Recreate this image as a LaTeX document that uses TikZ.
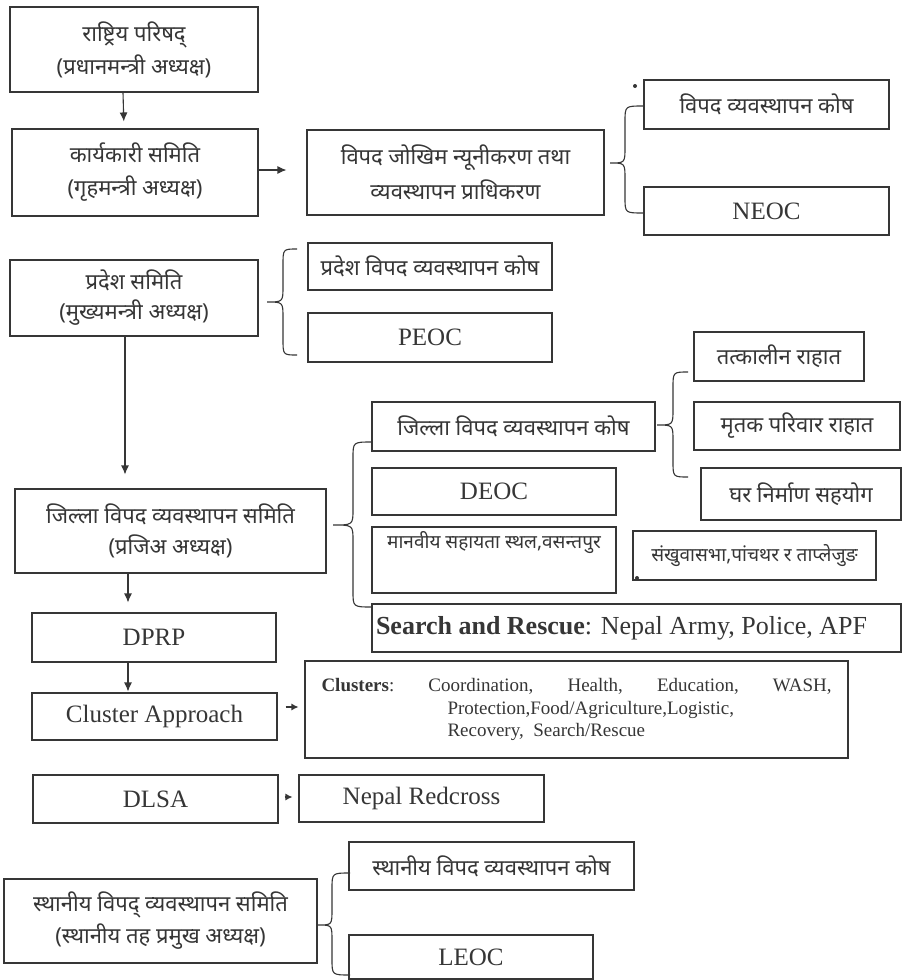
\documentclass[tikz,border=0pt]{standalone}
\usepackage{fontspec}
\setmainfont{Liberation Serif}
\newfontfamily\dev[Script=Devanagari]{Noto Sans}
\usetikzlibrary{arrows.meta}
\definecolor{ink}{HTML}{363636}
\tikzset{
  box/.style={draw=ink, line width=1.1pt, inner sep=0pt, text=ink, align=center},
  lat/.style={font=\fontsize{25}{30}\selectfont},
  dv/.style={font=\dev\fontsize{22}{33}\selectfont},
  dvs/.style={font=\dev\fontsize{19}{22}\selectfont},
  arr/.style={draw=ink, line width=1.1pt, -{Latex[length=9pt,width=8pt]}},
  brc/.style={draw=ink, line width=1.1pt},
}
\newcommand\curly[6]{%
  \draw[brc] (#1,#4) .. controls (#2,#4) .. (#2,#4+16) -- (#2,#5-16)
    .. controls (#2,#5) .. (#3,#5) .. controls (#2,#5) .. (#2,#5+16)
    -- (#2,#6-16) .. controls (#2,#6) .. (#1,#6);}
\begin{document}
\begin{tikzpicture}[x=1pt,y=-1pt]
\useasboundingbox (0,0) rectangle (903,980);
\fill[white] (0,0) rectangle (903,980);

% top level
\node[box,dv,minimum width=248pt,minimum height=85pt] (b1) at (134,49.5) {राष्ट्रिय परिषद्\\(प्रधानमन्त्री अध्यक्ष)};
\node[box,dv,minimum width=246pt,minimum height=87pt] (b2) at (135,172.5) {कार्यकारी समिति\\(गृहमन्त्री अध्यक्ष)};
\node[box,dv,font=\dev\fontsize{22}{35}\selectfont,minimum width=297pt,minimum height=85pt] (b3) at (455.5,172.5) {विपद जोखिम न्यूनीकरण तथा\\व्यवस्थापन प्राधिकरण};
\node[box,dv,minimum width=245pt,minimum height=49pt] (k1) at (766.5,104.5) {विपद व्यवस्थापन कोष};
\node[box,lat,minimum width=245pt,minimum height=48pt] (neoc) at (766.5,211) {NEOC};

% province
\node[box,dv,font=\dev\fontsize{22}{30}\selectfont,minimum width=248pt,minimum height=76pt] (b4) at (134,298) {प्रदेश समिति\\(मुख्यमन्त्री अध्यक्ष)};
\node[box,dv,minimum width=244pt,minimum height=47pt] (pk) at (430,266.5) {प्रदेश विपद व्यवस्थापन कोष};
\node[box,lat,minimum width=244pt,minimum height=49pt] (peoc) at (430,337.5) {PEOC};

% district
\node[box,dv,font=\dev\fontsize{22}{31}\selectfont,minimum width=311pt,minimum height=84pt] (b5) at (170.5,531) {जिल्ला विपद व्यवस्थापन समिति\\(प्रजिअ अध्यक्ष)};
\node[box,dv,minimum width=283pt,minimum height=49pt] (jk) at (513.5,426.5) {जिल्ला विपद व्यवस्थापन कोष};
\node[box,dv,minimum width=170pt,minimum height=49pt] (t1) at (779,356.5) {तत्कालीन राहात};
\node[box,dv,minimum width=206pt,minimum height=48pt] (t2) at (797,426) {मृतक परिवार राहात};
\node[box,dv,minimum width=200pt,minimum height=52pt] (t3) at (801,494) {घर निर्माण सहयोग};
\node[box,lat,minimum width=244pt,minimum height=47pt] (deoc) at (494,491.5) {DEOC};
\node[box,dvs,minimum width=244pt,text height=21pt,text depth=45pt] (mv) at (494,560) {मानवीय सहायता स्थल,वसन्तपुर};
\node[box,dvs,minimum width=243pt,minimum height=49pt] (sk) at (754.5,555.5) {संखुवासभा,पांचथर र ताप्लेजुङ};
\node[box,font=\fontsize{26}{30}\selectfont,minimum width=529pt,minimum height=48pt] (sr) at (636.5,628)
  {\makebox[521pt][l]{\textbf{Search and Rescue}: Nepal Army, Police, APF}};

\node[box,lat,minimum width=244pt,minimum height=49pt] (dprp) at (154,637.5) {DPRP};
\node[box,lat,minimum width=245pt,minimum height=47pt] (ca) at (154.5,716.5) {Cluster Approach};
\node[box,minimum width=543pt,minimum height=97pt,font=\fontsize{19}{22.5}\selectfont,align=left] (cl) at (576.5,709.5)
  {\parbox{510pt}{\textbf{Clusters}:\hfill Coordination,\hfill Health,\hfill Education,\hfill WASH,\\
   \hspace*{126pt}Protection,Food/Agriculture,Logistic,\\
   \hspace*{126pt}Recovery,\ \ Search/Rescue}};

\node[box,lat,minimum width=245pt,minimum height=48pt] (dlsa) at (155.5,799) {DLSA};
\node[box,lat,minimum width=245pt,minimum height=47pt] (rc) at (421.5,798.5) {Nepal Redcross};

% local
\node[box,dv,font=\dev\fontsize{22}{32}\selectfont,minimum width=313pt,minimum height=84pt] (b6) at (160.5,921) {स्थानीय विपद् व्यवस्थापन समिति\\(स्थानीय तह प्रमुख अध्यक्ष)};
\node[box,dv,minimum width=285pt,minimum height=48pt] (lk) at (491.5,866) {स्थानीय विपद व्यवस्थापन कोष};
\node[box,lat,minimum width=244pt,minimum height=44pt] (leoc) at (471,957) {LEOC};

% arrows
\coordinate (ax) at (128,0);
\coordinate (ay) at (0,707);
\coordinate (by) at (0,797);
\draw[arr,shorten >=7pt] ([xshift=-11pt]b1.south) -- ([xshift=-11pt]b2.north);
\draw[arr,shorten >=20pt] ([yshift=2.5pt]b2.east) -- ([yshift=2.5pt]b2.east -| b3.west);
\draw[arr,shorten >=14pt] ([xshift=-9pt]b4.south) -- ([xshift=-9pt]b4.south |- b5.north);
\draw[arr,shorten >=10pt] (b5.south -| ax) -- (dprp.north -| ax);
\draw[arr,shorten >=1pt] (dprp.south -| ax) -- (ca.north -| ax);
\draw[arr,shorten <=8pt,shorten >=6pt,-{Latex[length=7pt,width=7pt]}] (ca.east |- ay) -- (cl.west |- ay);
\draw[arr,shorten <=6pt,shorten >=6pt,-{Latex[length=7pt,width=7pt]}] (dlsa.east |- by) -- (rc.west |- by);

% braces
\curly{643}{625}{610}{106}{163}{213}
\curly{297}{283}{267}{249}{302}{355}
\curly{688}{673}{657}{372}{425}{477}
\curly{372}{353}{333}{442}{525}{607}
\curly{350}{332}{318}{873}{925}{975}

% specks
\fill[ink] (635,86) circle (2pt);
\fill[ink] (637,578) circle (2pt);
\end{tikzpicture}
\end{document}
